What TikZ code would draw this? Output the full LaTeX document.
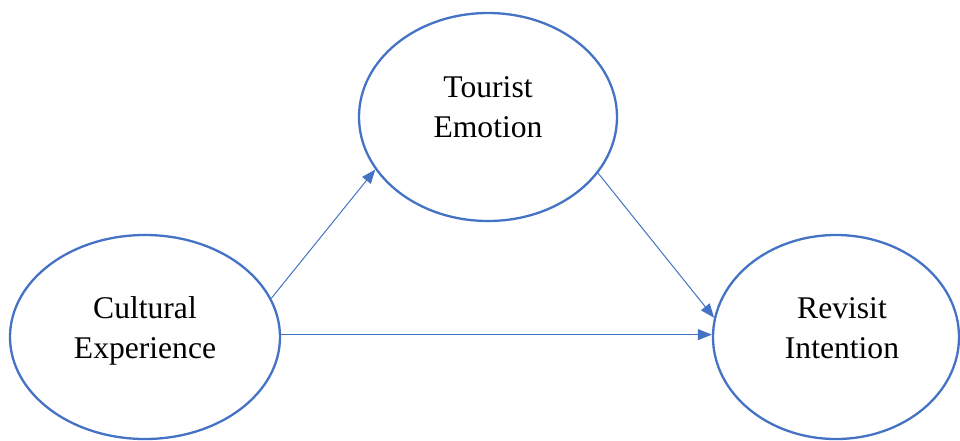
\documentclass[tikz,border=0pt]{standalone}
\usepackage{fontspec}
\setmainfont{Liberation Serif}
\usetikzlibrary{shapes.geometric,arrows.meta}
\definecolor{offblue}{HTML}{4472C4}
\begin{document}
\begin{tikzpicture}[x=1pt,y=-1pt,
  construct/.style={ellipse,draw=offblue,line width=2.3pt,inner sep=0pt},
  lbl/.style={align=center,font=\fontsize{31.6}{40}\selectfont,inner sep=0pt},
  path/.style={draw=offblue,line width=1pt,-{Triangle[length=14pt,width=11pt]},fill=none}]
\useasboundingbox (0,0) rectangle (960,440);
\node[construct,minimum width=258pt,minimum height=208pt] (tour) at (488,117) {};
\node[construct,minimum width=270pt,minimum height=204pt] (cult) at (145,337) {};
\node[construct,minimum width=246pt,minimum height=204pt] (rev) at (836,337) {};
\node[lbl] (tourT) at (488,107) {Tourist\\Emotion};
\node[lbl] (cultT) at (145,331) {Cultural\\Experience};
\node[lbl] (revT) at (842,328) {Revisit\\Intention};
\draw[path] (cult.17.7) -- (tour.205.5);
\draw[path] (tour.333.8) -- (rev.171.7);
\draw[path] (cult.1.2) -- (rev.west |- cult.1.2);
\end{tikzpicture}
\end{document}
